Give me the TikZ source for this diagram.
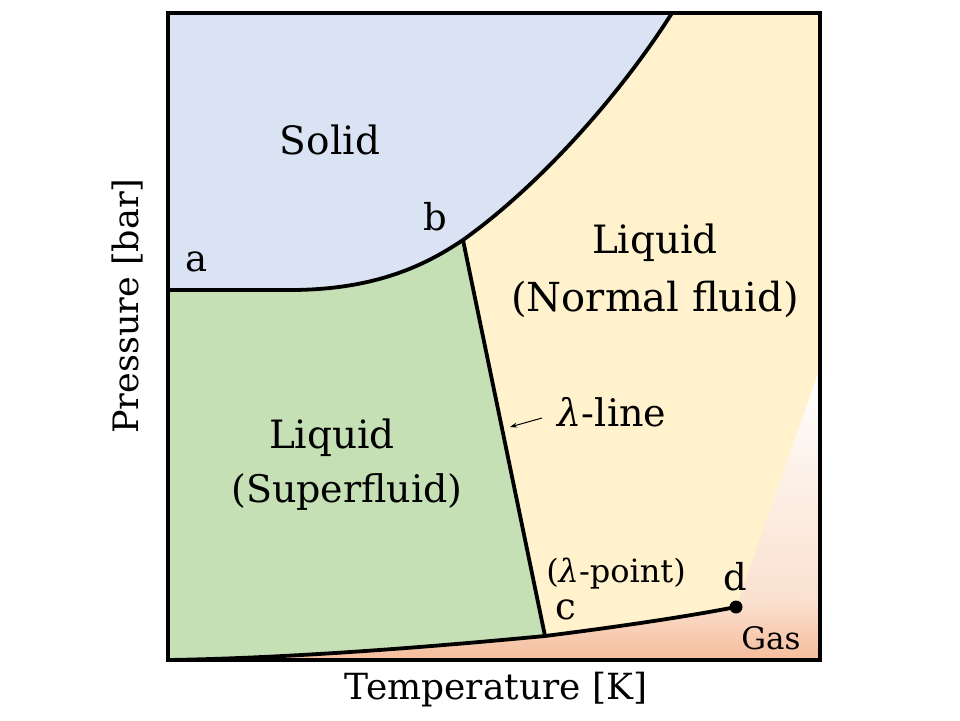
\documentclass[tikz,border=0pt]{standalone}
\usepackage{fontspec}
\setmainfont{DejaVu Serif}
\usetikzlibrary{arrows.meta}
\definecolor{solidc}{HTML}{DAE3F3}
\definecolor{superc}{HTML}{C5E0B4}
\definecolor{normc}{HTML}{FFF2CC}
\definecolor{gastop}{HTML}{FBE3D3}
\definecolor{gasbot}{HTML}{F5BC9C}
\definecolor{wedgebot}{HTML}{FAE0CE}
\newcommand{\lam}{{\itshape λ}}
\tikzset{
  txt/.style={inner sep=0pt},
  phaseline/.style={line width=3.8pt, line join=round},
}
\newcommand{\fs}[1]{\fontsize{#1}{#1}\selectfont}
\begin{document}
\begin{tikzpicture}[x=1pt,y=-1pt]
\useasboundingbox (0,0) rectangle (960,720);
\coordinate (a) at (168,290);
\coordinate (a2) at (290,290);
\coordinate (b) at (463,240);
\coordinate (top) at (672,13);
\coordinate (c) at (545,636);
\coordinate (d) at (736,607);
\coordinate (o) at (168,660);
\coordinate (gr) at (820,597);
\coordinate (wr) at (820,368);
% background normal fluid
\fill[normc] (168,13) rectangle (820,660);
% solid
\fill[solidc] (168,13) -- (top) .. controls (620,95) and (540,185) .. (b)
  .. controls (430,262) and (380,290) .. (a2) -- (a) -- cycle;
% superfluid
\fill[superc] (a) -- (a2) .. controls (380,290) and (430,262) .. (b) -- (c)
  .. controls (450,645) and (300,658) .. (o) -- cycle;
% gas wedge
\shade[top color=white, bottom color=wedgebot] (d) -- (wr) -- (gr) -- cycle;
% gas
\shade[top color=gastop, bottom color=gasbot] (o) .. controls (300,658) and (450,645) .. (c)
  .. controls (640,624) and (700,614) .. (d) -- (gr) -- (820,660) -- cycle;
% lines
\draw[phaseline] (a) -- (a2) .. controls (380,290) and (430,262) .. (b)
  .. controls (540,185) and (620,95) .. (top);
\draw[phaseline] (b) -- (c);
\draw[phaseline] (o) .. controls (300,658) and (450,645) .. (c)
  .. controls (640,624) and (700,614) .. (d);
\fill (d) circle (6.5);
% frame
\draw[line width=4.5pt] (168,13) rectangle (820,660);
% labels
\node[txt, font=\fs{39}] (solid) at (330,140) {Solid};
\node[txt, font=\fs{37}] (la) at (197,262) {a};
\node[txt, font=\fs{37}] (lb) at (435,217) {b};
\node[txt, font=\fs{39}] (nl1) at (655,243) {Liquid};
\node[txt, font=\fs{40}] (nl2) at (655,299) {(Normal fluid)};
\node[txt, font=\fs{39}] (sl1) at (332,438) {Liquid};
\node[txt, font=\fs{38}] (sl2) at (347,492) {(Superfluid)};
\node[txt, font=\fs{38}] (lam) at (612,412) {\lam-line};
\node[txt, font=\fs{32}] (lamp) at (616,574) {(\lam-point)};
\node[txt, font=\fs{37}] (lc) at (566,610) {c};
\node[txt, font=\fs{37}] (ld) at (735,577) {d};
\node[txt, font=\fs{31}] (gas) at (771,638) {Gas};
\node[txt, font=\fs{35}, rotate=90] (ylab) at (128,306) {Pressure [bar]};
\node[txt, font=\fs{36}] (xlab) at (496,690) {Temperature [K]};
\coordinate (arrS) at (542,418);
\coordinate (arrE) at (510,427);
\draw[-{Stealth[length=7pt,width=5pt]}, line width=1pt] (arrS) -- (arrE);
\end{tikzpicture}
\end{document}
